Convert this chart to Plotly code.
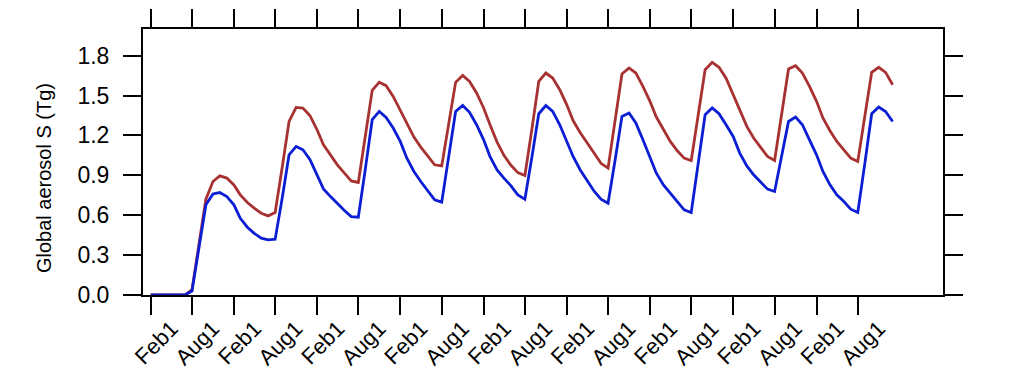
import pandas as pd
import plotly.graph_objects as go

# Monthly values, first month = Feb 2001, 108 months
months = pd.date_range("2001-02-01", periods=108, freq="MS")

red_series = [
    0, 0, 0, 0, 0, 0,
    0.04, 0.38, 0.72, 0.853, 0.896, 0.879,
    0.828, 0.753, 0.695, 0.653, 0.615, 0.595,
    0.62, 0.96, 1.305, 1.41, 1.405, 1.348,
    1.242, 1.13, 1.054, 0.979, 0.916, 0.858,
    0.846, 1.19, 1.539, 1.60, 1.574, 1.493,
    1.388, 1.28, 1.187, 1.112, 1.047, 0.979,
    0.971, 1.285, 1.599, 1.651, 1.606, 1.519,
    1.406, 1.28, 1.15, 1.05, 0.975, 0.92,
    0.899, 1.25, 1.606, 1.669, 1.631, 1.544,
    1.43, 1.31, 1.22, 1.145, 1.065, 0.99,
    0.954, 1.31, 1.662, 1.707, 1.669, 1.569,
    1.456, 1.338, 1.248, 1.155, 1.084, 1.029,
    1.011, 1.35, 1.694, 1.749, 1.712, 1.63,
    1.506, 1.38, 1.268, 1.18, 1.105, 1.041,
    1.011, 1.37, 1.699, 1.724, 1.669, 1.569,
    1.456, 1.331, 1.235, 1.155, 1.092, 1.029,
    1.004, 1.34, 1.674, 1.712, 1.674, 1.581,
]

blue_series = [
    0, 0, 0, 0, 0, 0,
    0.03, 0.36, 0.678, 0.76, 0.77, 0.74,
    0.678, 0.577, 0.51, 0.464, 0.427, 0.414,
    0.42, 0.73, 1.054, 1.117, 1.092, 1.017,
    0.904, 0.798, 0.74, 0.685, 0.635, 0.59,
    0.585, 0.95, 1.318, 1.38, 1.335, 1.255,
    1.155, 1.029, 0.929, 0.853, 0.786, 0.715,
    0.698, 1.04, 1.38, 1.425, 1.373, 1.28,
    1.167, 1.041, 0.941, 0.879, 0.821, 0.753,
    0.72, 1.04, 1.363, 1.425, 1.38, 1.28,
    1.155, 1.04, 0.94, 0.86, 0.78, 0.72,
    0.69, 1.015, 1.343, 1.368, 1.293, 1.167,
    1.041, 0.916, 0.828, 0.765, 0.703, 0.64,
    0.62, 0.99, 1.355, 1.406, 1.363, 1.28,
    1.192, 1.067, 0.971, 0.904, 0.846, 0.796,
    0.778, 1.04, 1.305, 1.338, 1.28, 1.167,
    1.054, 0.929, 0.828, 0.753, 0.703, 0.645,
    0.62, 0.99, 1.363, 1.413, 1.38, 1.305,
]

tick_dates = []
tick_labels = []
for yr in range(2001, 2010):
    tick_dates += [f"{yr}-02-01", f"{yr}-08-01"]
    tick_labels += ["Feb1", "Aug1"]

y_ticks = [0.0, 0.3, 0.6, 0.9, 1.2, 1.5, 1.8]
y_tick_labels = ["0.0", "0.3", "0.6", "0.9", "1.2", "1.5", "1.8"]
y_title = "Global aerosol S (Tg)"

fig = go.Figure()
fig.add_trace(go.Scatter(x=months, y=red_series, mode="lines",
                         line=dict(color="#a83232", width=2.8), showlegend=False))
fig.add_trace(go.Scatter(x=months, y=blue_series, mode="lines",
                         line=dict(color="#0c1ed4", width=2.8), showlegend=False))

font_family = "Liberation Sans, Arial, Helvetica, sans-serif"
fig.update_layout(
    width=1016, height=381,
    margin=dict(l=135, r=81, t=21, b=94),
    paper_bgcolor="white", plot_bgcolor="white",
    font=dict(family=font_family, color="black"),
    xaxis=dict(
        type="date",
        range=["2000-12-29", "2010-08-10"],
        tickmode="array", tickvals=tick_dates, ticktext=tick_labels,
        tickangle=-45, ticks="outside", ticklen=18, tickwidth=2, tickcolor="black",
        showline=True, linewidth=2, linecolor="black", mirror="allticks",
        showgrid=False, zeroline=False, automargin=False,
        tickfont=dict(size=22, family=font_family, color="black"),
        ticklabelshift=21, ticklabelstandoff=-8,
    ),
    yaxis=dict(
        range=[0, 2.0],
        tickmode="array", tickvals=y_ticks, ticktext=y_tick_labels,
        ticks="outside", ticklen=18, tickwidth=2, tickcolor="black",
        showline=True, linewidth=2, linecolor="black", mirror="allticks",
        showgrid=False, zeroline=False, automargin=False,
        tickfont=dict(size=23, family=font_family, color="black"),
        ticklabelstandoff=9,
    ),
    annotations=[dict(
        text=y_title, textangle=-90, showarrow=False,
        xref="paper", yref="paper", x=-0.123, y=0.438,
        xanchor="center", yanchor="middle",
        font=dict(size=20, family=font_family, color="black"),
    )],
)

fig.write_html("out.html")
